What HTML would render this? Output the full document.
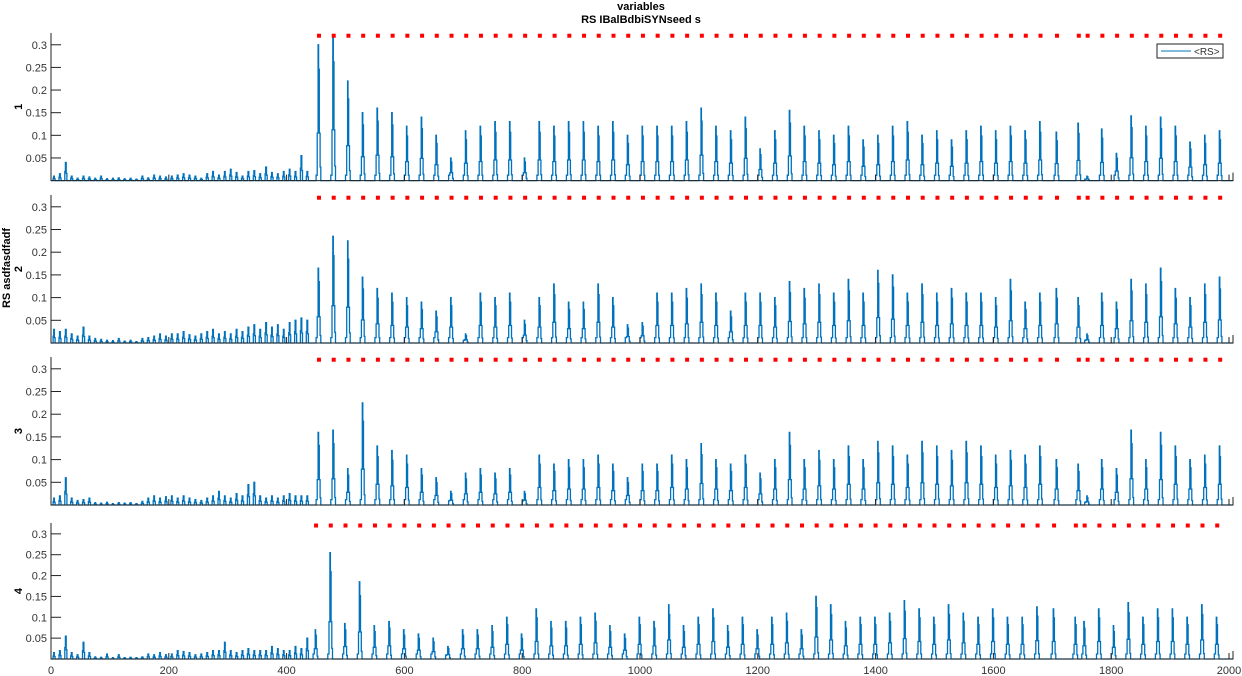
<!DOCTYPE html>
<html><head><meta charset="utf-8">
<style>
html,body{margin:0;padding:0;background:#fff;}
svg{display:block;font-family:"Liberation Sans",sans-serif;}
</style></head>
<body>
<svg id="chart" width="1242" height="676" viewBox="0 0 1242 676">
  <text x="641" y="10" text-anchor="middle" font-size="11" font-weight="bold" fill="#000">variables</text>
  <text x="641" y="23" text-anchor="middle" font-size="11" font-weight="bold" fill="#000">RS IBalBdbiSYNseed s</text>
  <g>
    <rect x="1157" y="44" width="66" height="14" fill="#fff" stroke="#222" stroke-width="1"/>
    <line x1="1161" y1="51" x2="1191" y2="51" stroke="#0072BD" stroke-width="1"/>
    <text x="1194" y="55" font-size="10" fill="#333">&lt;RS&gt;</text>
  </g>
  <text transform="translate(10,268) rotate(-90)" text-anchor="middle" font-size="11" font-weight="bold" fill="#000">RS asdfasdfadf</text>
</svg>
<script>
const xTicks = [0,200,400,600,800,1000,1200,1400,1600,1800,2000];
const yTicks = [0.05,0.1,0.15,0.2,0.25,0.3];
const panelLabels = ["1","2","3","4"];
const events = [455,480,505,530,555,580,605,630,655,680,705,730,755,780,805,830,855,880,905,930,955,980,1005,1030,1055,1080,1105,1130,1155,1180,1205,1230,1255,1280,1305,1330,1355,1380,1405,1430,1455,1480,1505,1530,1555,1580,1605,1630,1655,1680,1708,1745,1760,1785,1810,1835,1860,1885,1910,1935,1960,1985];
const heights1 = [0.30,0.32,0.22,0.15,0.16,0.15,0.12,0.14,0.10,0.05,0.11,0.12,0.13,0.13,0.05,0.13,0.12,0.13,0.13,0.12,0.13,0.10,0.12,0.12,0.12,0.13,0.16,0.12,0.11,0.14,0.07,0.11,0.155,0.12,0.11,0.10,0.12,0.09,0.10,0.12,0.13,0.10,0.11,0.09,0.11,0.12,0.11,0.12,0.11,0.13,0.107,0.127,0.01,0.114,0.06,0.143,0.12,0.14,0.12,0.085,0.10,0.11];
const heights2 = [0.165,0.235,0.225,0.145,0.12,0.11,0.10,0.09,0.07,0.10,0.02,0.11,0.10,0.11,0.05,0.10,0.13,0.09,0.09,0.13,0.10,0.04,0.045,0.11,0.11,0.12,0.13,0.11,0.07,0.11,0.11,0.10,0.135,0.12,0.13,0.11,0.14,0.11,0.16,0.15,0.11,0.13,0.11,0.12,0.11,0.11,0.10,0.14,0.09,0.11,0.12,0.10,0.02,0.11,0.09,0.14,0.13,0.165,0.12,0.10,0.13,0.145];
const heights3 = [0.16,0.165,0.08,0.225,0.13,0.12,0.11,0.08,0.06,0.03,0.07,0.08,0.07,0.08,0.03,0.11,0.09,0.10,0.10,0.11,0.09,0.06,0.09,0.09,0.11,0.10,0.135,0.10,0.09,0.11,0.07,0.10,0.16,0.10,0.12,0.10,0.13,0.10,0.14,0.13,0.11,0.14,0.13,0.12,0.14,0.13,0.11,0.12,0.11,0.13,0.10,0.09,0.02,0.10,0.08,0.165,0.10,0.16,0.13,0.10,0.11,0.13];
const heights4 = [0.07,0.255,0.085,0.185,0.08,0.09,0.07,0.06,0.05,0.03,0.07,0.07,0.08,0.10,0.06,0.12,0.09,0.09,0.10,0.11,0.08,0.06,0.10,0.09,0.13,0.08,0.10,0.12,0.08,0.10,0.07,0.10,0.11,0.07,0.15,0.13,0.09,0.10,0.10,0.11,0.14,0.12,0.10,0.13,0.11,0.10,0.12,0.10,0.10,0.125,0.12,0.10,0.09,0.12,0.08,0.135,0.10,0.12,0.12,0.10,0.13,0.10];
const noiseX = [5,15,25,35,45,55,65,75,85,95,105,115,125,135,145,155,165,175,185,195,205,215,225,235,245,255,265,275,285,295,305,315,325,335,345,355,365,375,385,395,405,415,425,435];
const noise1 = [0.01,0.015,0.04,0.01,0.005,0.01,0.008,0.005,0.01,0.004,0.005,0.006,0.004,0.005,0.003,0.01,0.006,0.012,0.01,0.008,0.01,0.012,0.015,0.012,0.01,0.005,0.015,0.02,0.012,0.02,0.025,0.018,0.01,0.02,0.022,0.015,0.03,0.018,0.015,0.02,0.025,0.02,0.055,0.02];
const noise2 = [0.03,0.025,0.03,0.02,0.015,0.035,0.015,0.01,0.008,0.006,0.005,0.01,0.004,0.006,0.003,0.01,0.012,0.015,0.02,0.015,0.02,0.02,0.025,0.018,0.015,0.02,0.025,0.03,0.02,0.025,0.02,0.03,0.025,0.035,0.04,0.03,0.045,0.035,0.04,0.03,0.045,0.05,0.055,0.05];
const noise3 = [0.015,0.02,0.06,0.015,0.01,0.012,0.015,0.005,0.004,0.006,0.003,0.005,0.004,0.005,0.003,0.008,0.015,0.02,0.015,0.018,0.02,0.015,0.02,0.015,0.012,0.01,0.015,0.02,0.03,0.02,0.015,0.025,0.02,0.045,0.05,0.02,0.015,0.02,0.015,0.02,0.025,0.02,0.02,0.02];
const noise4 = [0.015,0.02,0.055,0.015,0.01,0.04,0.015,0.005,0.004,0.012,0.003,0.01,0.003,0.004,0.003,0.005,0.012,0.01,0.015,0.01,0.012,0.02,0.018,0.015,0.01,0.012,0.015,0.02,0.02,0.04,0.02,0.015,0.02,0.025,0.02,0.02,0.02,0.03,0.025,0.02,0.02,0.03,0.025,0.05];

const panels = [
  {top:33, bottom:180.6, h:heights1, n:noise1, shift:0},
  {top:195, bottom:343, h:heights2, n:noise2, shift:0},
  {top:357, bottom:505, h:heights3, n:noise3, shift:0},
  {top:523, bottom:659, h:heights4, n:noise4, shift:-5}
];
const svg = document.getElementById('chart');
const NS = 'http://www.w3.org/2000/svg';
const X0 = 51, XS = 0.589, YMAX = 0.326, XR = 1233;
function sx(v){ return X0 + v*XS; }
function mk(tag, attrs, parent){
  const e = document.createElementNS(NS, tag);
  for (const k in attrs) e.setAttribute(k, attrs[k]);
  (parent||svg).appendChild(e);
  return e;
}
function stepPath(pts, base){
  // pts: [[x, y], ...] stairs: horizontal then vertical
  let d = '';
  let prevY = base;
  pts.forEach(([x, y]) => { d += ' L' + x.toFixed(1) + ',' + prevY.toFixed(1) + ' L' + x.toFixed(1) + ',' + y.toFixed(1); prevY = y; });
  return d;
}
panels.forEach((p, pi) => {
  const sy = v => p.bottom - v/YMAX*(p.bottom-p.top);
  const g = mk('g', {});
  
  
  let d = 'M' + sx(0) + ',' + p.bottom;
  noiseX.forEach((x, i) => {
    const v = p.n[i];
    d += stepPath([[sx(x-1.5), sy(v*0.5)], [sx(x-0.5), sy(v)], [sx(x+0.8), sy(v*0.4)], [sx(x+2), p.bottom]], p.bottom);
  });
  events.forEach((c0, i) => {
    const c = c0 + p.shift, v = p.h[i];
    d += stepPath([[sx(c-5), sy(Math.min(0.012, v*0.3))], [sx(c-3), sy(v*0.35)], [sx(c-1.5), sy(v)], [sx(c-0.7), sy(v*0.82)], [sx(c+0.5), sy(v*0.35)], [sx(c+1.8), sy(v*0.1)], [sx(c+3), p.bottom]], p.bottom);
  });
  d += ' L' + XR + ',' + p.bottom;
  const line = mk('path', {d:d, fill:'none', stroke:'#0072BD', 'stroke-width':1.3}, g);
  
  
  events.forEach((c0, i) => {
    const r = mk('rect', {x:sx(c0+p.shift)-2, y:sy(0.32)-2, width:4, height:4, fill:'#FF0000'}, g);
    
    
  });
  const ax = mk('path', {d:'M'+X0+','+p.top+' L'+X0+','+p.bottom+' L'+XR+','+p.bottom+' L'+XR+','+(p.bottom-8), fill:'none', stroke:'#222', 'stroke-width':1}, g);
  
  
  yTicks.forEach(t => {
    const y = sy(t);
    mk('line', {x1:X0, y1:y, x2:X0+10, y2:y, stroke:'#222', 'stroke-width':1}, g);
    const tx = mk('text', {x:X0-4, y:y+4, 'text-anchor':'end', 'font-size':11, fill:'#333'}, g);
    tx.textContent = String(t);
    
    
  });
  xTicks.forEach(t => {
    const x = sx(t);
    mk('line', {x1:x, y1:p.bottom, x2:x, y2:p.bottom-6, stroke:'#222', 'stroke-width':1}, g);
    if (pi === 3) {
      const tx = mk('text', {x:x, y:p.bottom+15, 'text-anchor':'middle', 'font-size':11, fill:'#333'}, g);
      tx.textContent = String(t);
      
      
    }
  });
  const lb = mk('text', {transform:'translate(22,'+((p.top+p.bottom)/2)+') rotate(-90)', 'text-anchor':'middle', 'font-size':11, 'font-weight':'bold', fill:'#000'}, g);
  lb.textContent = panelLabels[pi];
  
  
});
</script>
</body></html>
